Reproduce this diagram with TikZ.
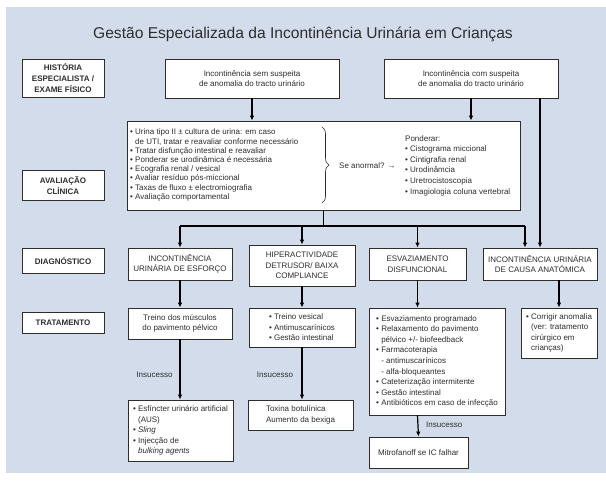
\documentclass[tikz,border=0pt]{standalone}
\usepackage{fontspec}
\setmainfont{Liberation Sans}
\usetikzlibrary{arrows.meta, decorations.pathreplacing}
\definecolor{fundo}{RGB}{211,220,235}
\definecolor{texto}{RGB}{45,45,45}
\newcommand{\bul}{\textbullet\ }
\newcommand{\ind}{\phantom{\textbullet\ }}

\begin{document}
\begin{tikzpicture}[x=1pt, y=-1pt,
  caixa/.style={draw=texto, fill=white, line width=0.8pt, inner sep=0pt, text=texto, align=center, font=\fontsize{8}{10.6}\selectfont},
  rotulo/.style={caixa, font=\bfseries\fontsize{8}{11}\selectfont, minimum width=82pt},
  nota/.style={text=texto, inner sep=0pt, font=\fontsize{8}{9.2}\selectfont},
  seta/.style={line width=1.2pt, -{Latex[length=5pt, width=4.5pt]}},
  linha/.style={line width=1.2pt}]
\useasboundingbox (0,0) rectangle (606,480);
\fill[fundo] (6,7) rectangle (606,473);

\node[text=texto, font=\fontsize{15.6}{18}\selectfont] (titulo) at (303,34) {Gestão Especializada da Incontinência Urinária em Crianças};

% coluna da esquerda
\node[rotulo, minimum height=38pt] (hist) at (63,78) {HISTÓRIA\\ESPECIALISTA /\\EXAME FÍSICO};
\node[rotulo, minimum height=30pt] (aval) at (63,185) {AVALIAÇÃO\\CLÍNICA};
\node[rotulo, minimum height=25pt] (diag) at (63,260.5) {DIAGNÓSTICO};
\node[rotulo, minimum height=21pt] (trat) at (63,322.5) {TRATAMENTO};

% historia
\node[caixa, minimum width=174pt, minimum height=39pt] (sem) at (252,78.5) {Incontinência sem suspeita\\de anomalia do tracto urinário};
\node[caixa, minimum width=174pt, minimum height=39pt] (com) at (471,78.5) {Incontinência com suspeita\\de anomalia do tracto urinário};

% avaliacao clinica
\node[caixa, minimum width=393pt, minimum height=89pt] (clin) at (323.5,165.5) {};
\node[nota, anchor=west, align=left] (lista) at (130,165) {\bul Urina tipo II ± cultura de urina: em caso\\
\ind de UTI, tratar e reavaliar conforme necessário\\
\bul Tratar disfunção intestinal e reavaliar\\
\bul Ponderar se urodinâmica é necessária\\
\bul Ecografia renal / vesical\\
\bul Avaliar resíduo pós-miccional\\
\bul Taxas de fluxo ± electromiografia\\
\bul Avaliação comportamental};
\draw[texto, line width=0.6pt, decorate, decoration={brace, amplitude=7pt}] (322,127) -- (322,203);
\node[nota, anchor=west] (anormal) at (339,166) {Se anormal? →};
\node[nota, anchor=west, align=left, font=\fontsize{8}{10.6}\selectfont] (ponderar) at (405,165.5) {Ponderar:\\
\bul Cistograma miccional\\
\bul Cintigrafia renal\\
\bul Urodinâmcia\\
\bul Uretrocistoscopia\\
\bul Imagiologia coluna vertebral};

% diagnostico
\node[caixa, minimum width=104pt, minimum height=32pt] (esf) at (180,264) {INCONTINÊNCIA\\URINÁRIA DE ESFORÇO};
\node[caixa, minimum width=106pt, minimum height=41pt] (hip) at (302,265.5) {HIPERACTIVIDADE\\DETRUSOR/ BAIXA\\COMPLIANCE};
\node[caixa, minimum width=97pt, minimum height=32pt] (esv) at (417.5,264) {ESVAZIAMENTO\\DISFUNCIONAL};
\node[caixa, minimum width=114pt, minimum height=32pt] (ana) at (540,264) {INCONTINÊNCIA URINÁRIA\\DE CAUSA ANATÓMICA};

% tratamento
\node[caixa, minimum width=104pt, minimum height=31pt] (tre1) at (180,323.5) {Treino dos músculos\\do pavimento pélvico};
\node[caixa, minimum width=106pt, minimum height=39pt, align=left] (tre2) at (302,327.5) {\bul Treino vesical\\\bul Antimuscarínicos\\\bul Gestão intestinal};
\node[caixa, minimum width=136pt, minimum height=107pt, align=left] (tre3) at (437,361.5) {\bul Esvaziamento programado\\
\bul Relaxamento do pavimento\\
\ind pélvico +/- biofeedback\\
\bul Farmacoterapia\\
\ind - antimuscarínicos\\
\ind - alfa-bloqueantes\\
\bul Cateterização intermitente\\
\bul Gestão intestinal\\
\bul Antibióticos em caso de infecção};
\node[caixa, minimum width=76pt, minimum height=50pt, align=left] (tre4) at (559,333) {\bul Corrigir anomalia\\\ind (ver: tratamento\\\ind cirúrgico em\\\ind crianças)};

% insucesso
\node[caixa, minimum width=105pt, minimum height=61pt, align=left] (fal1) at (180.5,430.5) {\bul Esfíncter urinário artificial\\
\ind (AUS)\\
\bul \textit{Sling}\\
\bul Injecção de\\
\ind \textit{bulking agents}};
\node[caixa, minimum width=105pt, minimum height=30pt, align=left] (fal2) at (300.5,415) {Toxina botulínica\\Aumento da bexiga};
\node[caixa, minimum width=99pt, minimum height=31pt] (mitro) at (418.5,452.5) {Mitrofanoff se IC falhar};
\node[nota] (ins1) at (154.5,375) {Insucesso};
\node[nota] (ins2) at (275,375) {Insucesso};
\node[nota, anchor=west] (ins3) at (426,425) {Insucesso};

% ligacoes
\draw[seta] (sem.south) -- (sem.south |- clin.north);
\draw[seta] (com.south) -- (com.south |- clin.north);
\draw[seta] (com.south -| ana.north) -- (ana.north);
\coordinate (bus) at (323.5,226);
\coordinate (busR) at (525,226);
\draw[linha] (clin.south) -- (bus);
\draw[linha] (esf.north |- bus) -- (busR);
\draw[seta] (esf.north |- bus) -- (esf.north);
\draw[seta] (hip.north |- bus) -- (hip.north);
\draw[seta] (esv.north |- bus) -- (esv.north);
\draw[seta] (busR) -- (busR |- ana.north);
\draw[seta] (esf.south) -- (tre1.north);
\draw[seta] (hip.south) -- (tre2.north);
\draw[seta] (esv.south) -- (esv.south |- tre3.north);
\draw[seta] (tre4.north |- ana.south) -- (tre4.north);
\draw[seta] (tre1.south) -- (fal1.north -| tre1.south);
\draw[seta] (tre2.south) -- (fal2.north -| tre2.south);
\draw[seta] (esv.south |- tre3.south) -- (mitro.north);
\end{tikzpicture}
\end{document}
